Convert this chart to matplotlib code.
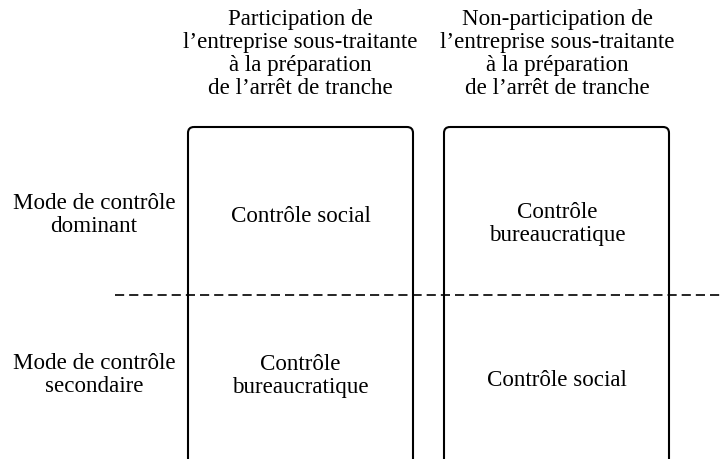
import matplotlib
matplotlib.use("Agg")
import matplotlib.pyplot as plt
from matplotlib.patches import FancyBboxPatch

plt.rcParams['font.family'] = ['Liberation Serif', 'DejaVu Serif']

col_headers = ["Participation de\nl\u2019entreprise sous-traitante\n\u00e0 la pr\u00e9paration\nde l\u2019arr\u00eat de tranche",
               "Non-participation de\nl\u2019entreprise sous-traitante\n\u00e0 la pr\u00e9paration\nde l\u2019arr\u00eat de tranche"]
row_labels = ["Mode de contr\u00f4le\ndominant", "Mode de contr\u00f4le\nsecondaire"]
cells = [["Contr\u00f4le social", "Contr\u00f4le\nbureaucratique"],
         ["Contr\u00f4le\nbureaucratique", "Contr\u00f4le social"]]

fig = plt.figure(figsize=(7.22, 4.59), dpi=100)
ax = fig.add_axes([0, 0, 1, 1])
ax.set_xlim(0, 722)
ax.set_ylim(459, 0)
ax.axis('off')

fs = 16.6
ls = 1.12
col_x = [300.5, 557]
box_left = [188, 444]
box_w = 225
row_y = [215, 375]
cell_y = [[217, 224], [376, 380]]

for i, h in enumerate(col_headers):
    ax.text(col_x[i], 54, h, ha='center', va='center', fontsize=fs, linespacing=ls)
    p = FancyBboxPatch((box_left[i], 127), box_w, 400,
                       boxstyle="round,pad=0,rounding_size=6",
                       fill=False, ec='black', lw=1.5)
    ax.add_patch(p)

for r, lab in enumerate(row_labels):
    ax.text(94, row_y[r], lab, ha='center', va='center', fontsize=fs, linespacing=ls)
    for c in range(2):
        ax.text(col_x[c], cell_y[r][c], cells[r][c], ha='center', va='center',
                fontsize=fs, linespacing=ls)

ax.plot([115, 722], [295, 295], color='black', lw=1.2, ls=(0, (5.5, 3)))

fig.savefig("out.png", dpi=100)
